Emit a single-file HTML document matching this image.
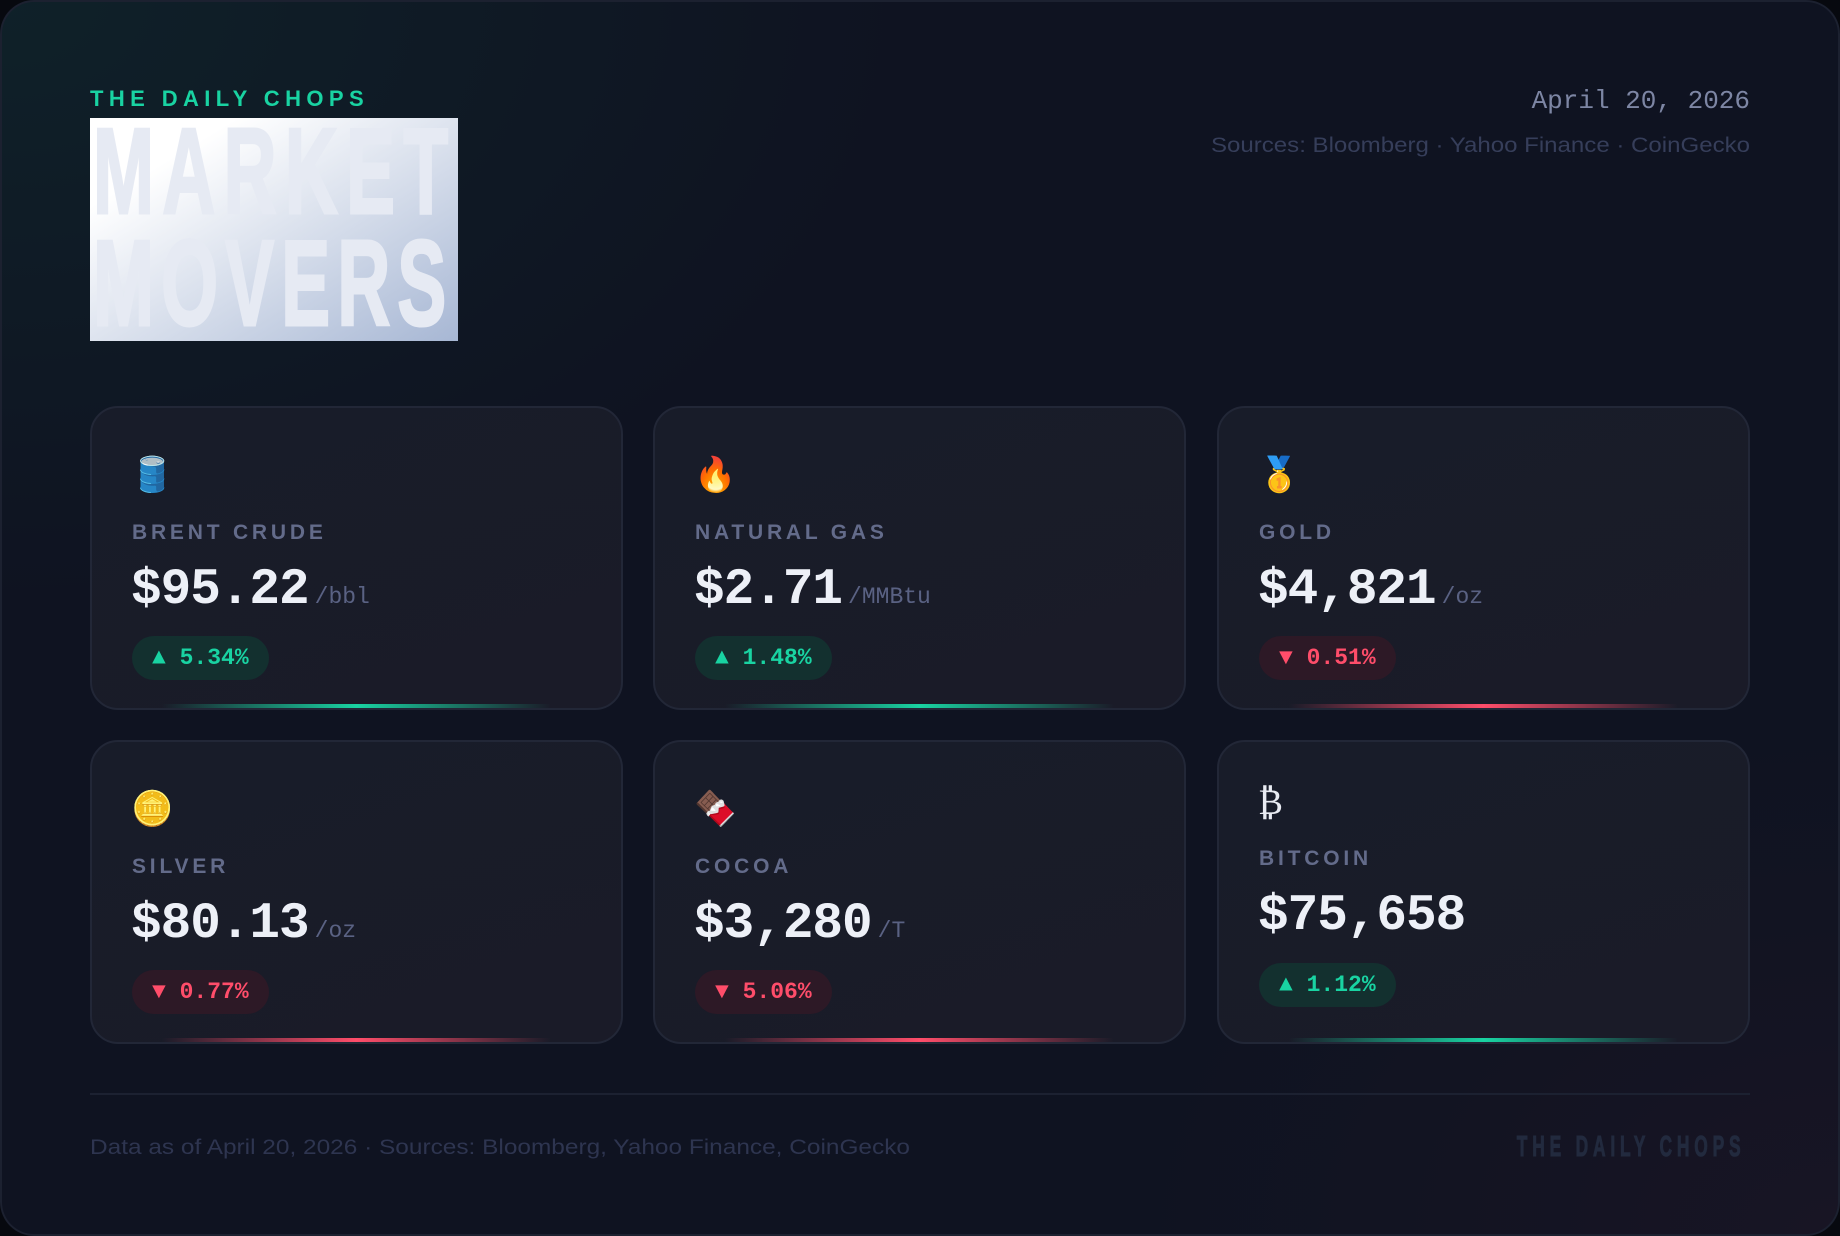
<!DOCTYPE html>
<html><head><meta charset="utf-8"><style>
*{margin:0;padding:0;box-sizing:border-box}
html,body{width:1840px;height:1236px;background:#07090f;overflow:hidden}
.frame{position:absolute;left:0;top:0;width:1840px;height:1236px;border-radius:34px;box-shadow:inset 0 0 0 2px #1c2130;
background:radial-gradient(ellipse 900px 600px at 0px 0px,#0f2129 0%,rgba(15,28,36,0) 100%),radial-gradient(ellipse 700px 500px at 1840px 1236px,#181524 0%,rgba(20,18,30,0) 100%),#0f1321;overflow:hidden}
.abs{position:absolute;white-space:nowrap}
.brand{left:90px;top:86px;font:bold 22px "Liberation Sans",sans-serif;letter-spacing:5.4px;color:#19d3a2}
.card{position:absolute;width:533px;height:304px;border-radius:28px;border:2px solid #222737;background:linear-gradient(160deg,#181c29,#1a1b28)}
.card .glow{position:absolute;left:70px;right:70px;bottom:0px;height:4px;border-radius:2px}
.g .glow{background:linear-gradient(90deg,rgba(25,211,162,0),#19d3a2 50%,rgba(25,211,162,0))}
.r .glow{background:linear-gradient(90deg,rgba(255,77,106,0),#ff4d6a 50%,rgba(255,77,106,0))}
.icon{position:absolute;left:39px;top:46px;font-size:34px;line-height:42px;font-family:"DejaVu Sans",sans-serif}
.lab{position:absolute;left:40px;top:113px;font:bold 21px "Liberation Sans",sans-serif;letter-spacing:3.8px;color:#636b8a}
.price{position:absolute;left:39px;top:154px;font:bold 51px "Liberation Mono",monospace;color:#edf0f7;letter-spacing:-1px}
.price span{font-weight:normal;font-size:23px;color:#5a6283;letter-spacing:0;margin-left:6px}
.pill{position:absolute;left:40px;top:228px;height:44px;padding:0 20px;border-radius:22px;font:bold 23px/44px "Liberation Mono",monospace}
.g .pill{background:#13302f;color:#19d3a2}
.r .pill{background:#2d1926;color:#ff4d6a}
</style></head><body><div class="frame">
<div class="abs brand">THE DAILY CHOPS</div>
<svg class="abs" style="left:90px;top:118px" width="368" height="223">
<defs><linearGradient id="tg" x1="0" y1="0" x2="1" y2="1"><stop offset="0.2" stop-color="#ffffff"/><stop offset="1" stop-color="#a7b7d4"/></linearGradient></defs>
<rect width="368" height="223" fill="url(#tg)"/>
<g transform="scale(0.6,1)">
<text x="5" y="95" font-family="Liberation Sans, sans-serif" font-weight="bold" font-size="122" fill="#e6eaf3" letter-spacing="14" stroke="#e6eaf3" stroke-width="3">MARKET</text>
<text x="5" y="207" font-family="Liberation Sans, sans-serif" font-weight="bold" font-size="122" fill="#e6eaf3" letter-spacing="12" stroke="#e6eaf3" stroke-width="3">MOVERS</text>
</g>
</svg>
<div class="abs" style="right:90px;top:86px;font:26px 'Liberation Mono',monospace;color:#7d86a4">April 20, 2026</div>
<svg class="abs" style="left:1200px;top:128px" width="550" height="30"><text x="550" y="24" text-anchor="end" font-family="Liberation Sans, sans-serif" font-size="21" fill="#363e5a" textLength="539" lengthAdjust="spacingAndGlyphs">Sources: Bloomberg · Yahoo Finance · CoinGecko</text></svg>

<div class="card g" style="left:90px;top:406px"><div class="icon">🛢️</div><div class="lab">BRENT CRUDE</div><div class="price">$95.22<span>/bbl</span></div><div class="pill">▲ 5.34%</div><div class="glow"></div></div>
<div class="card g" style="left:653px;top:406px"><div class="icon">🔥</div><div class="lab">NATURAL GAS</div><div class="price">$2.71<span>/MMBtu</span></div><div class="pill">▲ 1.48%</div><div class="glow"></div></div>
<div class="card r" style="left:1217px;top:406px"><div class="icon">🥇</div><div class="lab">GOLD</div><div class="price">$4,821<span>/oz</span></div><div class="pill">▼ 0.51%</div><div class="glow"></div></div>
<div class="card r" style="left:90px;top:740px"><div class="icon">🪙</div><div class="lab">SILVER</div><div class="price">$80.13<span>/oz</span></div><div class="pill">▼ 0.77%</div><div class="glow"></div></div>
<div class="card r" style="left:653px;top:740px"><div class="icon">🍫</div><div class="lab">COCOA</div><div class="price">$3,280<span>/T</span></div><div class="pill">▼ 5.06%</div><div class="glow"></div></div>
<div class="card g" style="left:1217px;top:740px"><div class="icon" style="color:#e8ebf2;font-family:'DejaVu Serif',serif;top:40px;font-size:36px">₿</div><div class="lab" style="top:105px">BITCOIN</div><div class="price" style="top:146px">$75,658</div><div class="pill" style="top:221px">▲ 1.12%</div><div class="glow"></div></div>

<div class="abs" style="left:90px;top:1093px;width:1660px;height:2px;background:#1c2131"></div>
<svg class="abs" style="left:90px;top:1130px" width="830" height="30"><text x="0" y="24" font-family="Liberation Sans, sans-serif" font-size="21" fill="#2e3550" textLength="820" lengthAdjust="spacingAndGlyphs">Data as of April 20, 2026 · Sources: Bloomberg, Yahoo Finance, CoinGecko</text></svg>
<svg class="abs" style="left:1500px;top:1128px" width="252" height="34"><g transform="scale(0.6,1)"><text x="28" y="28" font-family="Liberation Sans, sans-serif" font-weight="bold" font-size="29" fill="#222a3e" stroke="#222a3e" stroke-width="1" letter-spacing="8">THE DAILY CHOPS</text></g></svg>
</div></body></html>
